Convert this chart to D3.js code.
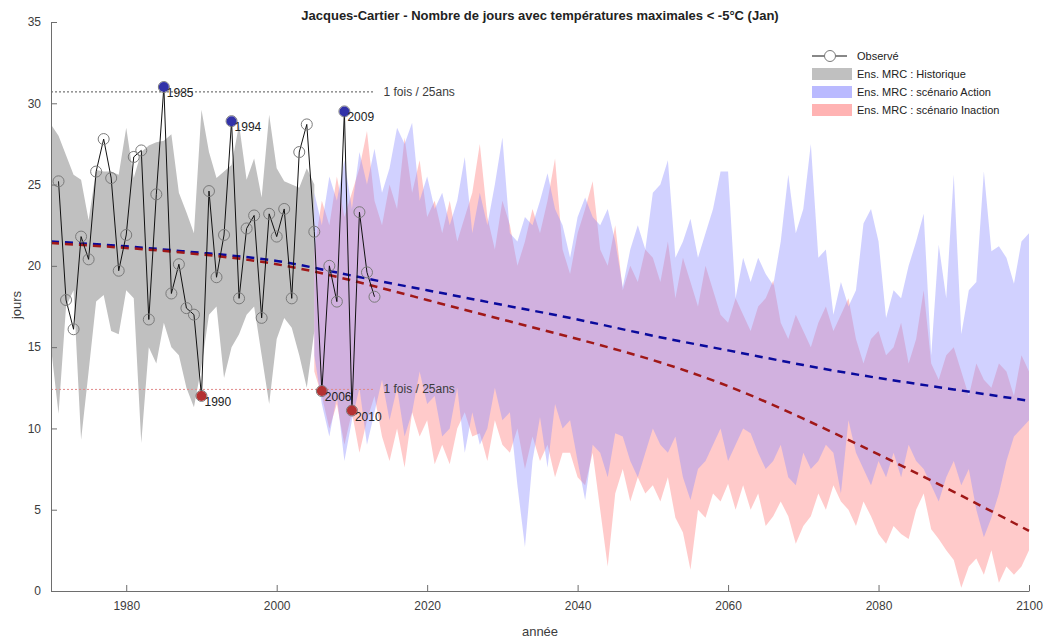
<!DOCTYPE html>
<html>
<head>
<meta charset="utf-8">
<script src="https://cdn.jsdelivr.net/npm/d3@7"></script>
<style>
    body { margin: 0; background: #fff; }
    text { font-family: "Liberation Sans", Arial, sans-serif; }
</style>
</head>
<body>
<div id="chart"></div>
<script>
// Observed January days with Tmax < -5°C
const obsYears = d3.range(1971, 2014);
const obsValues = [25.2, 17.9, 16.1, 21.8, 20.4, 25.8, 27.8, 25.4, 19.7, 21.9,
    26.7, 27.1, 16.7, 24.4, 31.0, 18.3, 20.1, 17.4, 17.0, 12.0,
    24.6, 19.3, 21.9, 28.9, 18.0, 22.3, 23.1, 16.8, 23.2, 21.8,
    23.5, 18.0, 27.0, 28.7, 22.1, 12.3, 20.0, 17.8, 29.5, 11.1,
    23.3, 19.6, 18.1];

// Highlighted extremes
const highYears = [1985, 1994, 2009];
const lowYears = [1990, 2006, 2010];
const thresholdHigh = 30.7;
const thresholdLow = 12.4;
const thresholdLabel = '1 fois / 25ans';

// Historical ensemble envelope (1970-2005)
const histYears = d3.range(1970, 2006);
const histUpper = [28.7, 28.0, 26.8, 25.6, 25.3, 22.8, 25.9, 25.8, 25.8, 25.6,
    28.5, 25.4, 27.0, 27.4, 27.6, 27.7, 28.1, 24.5, 23.3, 22.0,
    29.6, 27.0, 25.4, 25.8, 26.2, 28.7, 25.3, 26.6, 24.2, 29.3,
    26.0, 25.2, 25.0, 24.8, 26.0, 25.0];
const histLower = [15.0, 10.9, 17.5, 18.5, 9.3, 13.5, 17.8, 18.2, 16.0, 15.8,
    18.5, 18.0, 9.1, 15.0, 14.0, 16.5, 15.0, 14.5, 12.5, 11.3,
    13.8, 17.0, 17.5, 13.1, 15.0, 15.8, 17.0, 17.5, 14.5, 11.5,
    15.5, 16.8, 16.2, 14.5, 12.5, 16.0];

// Projected ensemble envelopes (2005-2100)
const projYears = d3.range(2005, 2101);
const actionUpper = [24.5,
    22.5, 25.5, 24.0, 26.5, 23.5, 27.0, 25.0, 27.2, 24.5, 26.0,
    28.5, 27.5, 28.8, 24.0, 25.5, 23.5, 24.5, 22.5, 24.0, 26.7,
    22.0, 24.5, 22.5, 25.0, 27.9, 22.0, 21.5, 23.0, 22.5, 24.0,
    25.7, 23.5, 22.5, 20.5, 23.0, 24.2, 23.0, 22.5, 23.5, 21.5,
    18.7, 21.0, 22.5, 21.0, 24.5, 25.0, 26.5, 20.5, 21.5, 22.9,
    20.5, 22.0, 23.5, 25.8, 25.8, 18.0, 20.5, 19.0, 20.5, 19.5,
    18.8, 21.5, 25.6, 22.0, 23.5, 27.5, 20.5, 21.0, 17.0, 19.0,
    17.5, 18.5, 22.6, 23.5, 21.5, 16.8, 18.5, 18.0, 20.0, 21.5,
    23.2, 14.5, 21.3, 18.0, 25.6, 15.8, 18.5, 19.0, 25.8, 20.9,
    21.2, 20.5, 18.9, 21.5, 22.0];
const actionLower = [14.5,
    11.5, 9.5, 12.0, 8.0, 10.5, 12.5, 9.0, 11.0, 13.0, 10.5,
    12.5, 9.5, 11.0, 13.5, 11.5, 12.0, 9.5, 10.0, 12.5, 8.5,
    11.0, 9.0, 10.0, 12.5, 10.5, 11.0, 6.5, 2.7, 8.0, 10.7,
    7.6, 11.5, 10.0, 10.5, 8.0, 5.6, 9.0, 8.5, 7.0, 9.7,
    9.5, 8.0, 7.0, 8.5, 10.0, 9.0, 8.5, 9.5, 7.0, 5.6,
    7.5, 8.0, 9.0, 10.0, 8.0, 9.0, 10.0, 9.7, 8.5, 7.5,
    8.0, 9.0, 7.0, 6.5, 8.5, 7.5, 8.0, 9.0, 8.5, 6.0,
    10.5, 8.5, 7.5, 6.5, 8.0, 7.0, 8.5, 7.0, 9.0, 8.0,
    7.5, 6.5, 5.5, 7.0, 8.0, 6.5, 7.5, 5.0, 3.3, 4.5,
    6.0, 8.0, 9.5, 10.0, 10.5];
const inactionUpper = [21.0,
    24.0, 22.5, 25.5, 23.0, 24.5, 26.0, 28.3, 24.0, 22.5, 25.0,
    23.5, 27.9, 24.5, 26.5, 23.0, 24.0, 22.0, 24.0, 21.5, 23.0,
    24.5, 27.5, 23.0, 21.0, 24.0, 22.5, 20.0, 21.5, 23.5, 22.0,
    24.0, 26.6, 21.0, 19.5, 22.0, 23.5, 25.2, 21.0, 20.0, 22.5,
    18.5, 20.0, 19.0, 21.0, 20.5, 19.0, 21.5, 18.0, 20.5, 19.0,
    17.5, 20.0, 18.5, 17.0, 16.5, 18.0, 17.0, 16.0, 17.5, 18.0,
    19.1, 16.5, 15.5, 17.0, 16.0, 15.0, 16.5, 17.5, 16.0, 17.0,
    18.0, 15.5, 14.0, 15.5, 16.0, 14.5, 15.0, 16.5, 14.0, 15.5,
    18.5, 14.0, 13.0, 14.5, 15.0, 13.5, 12.0, 14.0, 13.0, 12.5,
    14.0, 13.5, 12.0, 14.5, 13.5];
const inactionLower = [13.5,
    12.0, 10.0, 11.5, 9.0, 11.0, 8.5, 10.5, 12.0, 9.5, 8.0,
    10.0, 7.6, 11.0, 9.5, 10.5, 7.8, 9.0, 7.8, 10.0, 11.0,
    9.5, 9.7, 8.0, 10.5, 9.0, 8.5, 10.0, 7.5, 9.5, 8.0,
    9.0, 7.0, 8.5, 8.5, 7.0, 6.5, 8.5, 5.0, 1.5, 6.0,
    7.5, 5.5, 7.0, 6.0, 6.5, 5.5, 7.0, 4.5, 3.6, 1.3,
    5.0, 4.5, 6.0, 5.5, 6.6, 5.0, 6.5, 5.0, 6.0, 4.0,
    4.6, 5.5, 4.6, 2.9, 4.0, 4.6, 6.0, 5.0, 6.5, 5.5,
    5.0, 4.0, 5.5, 4.6, 3.5, 2.9, 4.0, 3.5, 3.2, 5.0,
    6.0, 3.8, 3.2, 2.5, 1.9, 0.2, 1.5, 2.0, 1.0, 2.5,
    0.5, 1.5, 1.0, 1.5, 2.5];

// Ensemble mean trends
const trendYears = [1970, 1980, 1990, 2000, 2010, 2020, 2030, 2040, 2050, 2060, 2070, 2080, 2090, 2100];
const trendAction = [21.5, 21.2, 20.8, 20.3, 19.4, 18.5, 17.6, 16.7, 15.7, 14.8, 13.9, 13.1, 12.4, 11.7];
const trendInaction = [21.4, 21.1, 20.7, 20.1, 19.1, 17.9, 16.7, 15.5, 14.2, 12.6, 10.6, 8.4, 6.1, 3.7];

const xTicks = [1980, 2000, 2020, 2040, 2060, 2080, 2100];
const yTicks = [0, 5, 10, 15, 20, 25, 30, 35];

const legendLabels = ['Observé', 'Ens. MRC : Historique', 'Ens. MRC : scénario Action', 'Ens. MRC : scénario Inaction'];

// Chart setup
const width = 1053;
const height = 641;
const axisColor = '#6e6e6e';
const textColor = '#3c3c3c';

const svg = d3.select('#chart')
    .append('svg')
    .attr('width', width)
    .attr('height', height);

const x = d3.scaleLinear().domain([1970, 2100]).range([51, 1029]);
const y = d3.scaleLinear().domain([0, 35]).range([591, 22]);

// Bands
function bandArea(years, lower, upper) {
    return d3.area()
        .x((d, i) => x(years[i]))
        .y0((d, i) => y(lower[i]))
        .y1((d, i) => y(upper[i]))(years);
}

svg.append('path')
    .attr('d', bandArea(histYears, histLower, histUpper))
    .attr('fill', '#c0c0c0');

svg.append('path')
    .attr('d', bandArea(projYears, inactionLower, inactionUpper))
    .attr('fill', '#ff8080')
    .attr('fill-opacity', 0.42);

svg.append('path')
    .attr('d', bandArea(projYears, actionLower, actionUpper))
    .attr('fill', '#8c8cff')
    .attr('fill-opacity', 0.4);

// Return-period thresholds
const thrEnd = 2013;
svg.append('line')
    .attr('x1', x(1970)).attr('x2', x(thrEnd))
    .attr('y1', y(thresholdHigh)).attr('y2', y(thresholdHigh))
    .attr('stroke', '#555')
    .attr('stroke-width', 1)
    .attr('stroke-dasharray', '2,2');

svg.append('line')
    .attr('x1', x(1970)).attr('x2', x(thrEnd))
    .attr('y1', y(thresholdLow)).attr('y2', y(thresholdLow))
    .attr('stroke', '#e08a8a')
    .attr('stroke-width', 1)
    .attr('stroke-dasharray', '2,2');

[thresholdHigh, thresholdLow].forEach((v) => {
    svg.append('text')
        .attr('x', x(thrEnd) + 9)
        .attr('y', y(v) + 4)
        .style('font-size', '12px')
        .style('fill', textColor)
        .text(thresholdLabel);
});

// Trend lines
const trendLine = (values) => d3.line()
    .x((d, i) => x(trendYears[i]))
    .y((d, i) => y(values[i]))
    .curve(d3.curveNatural)(trendYears);

svg.append('path')
    .attr('d', trendLine(trendAction))
    .attr('fill', 'none')
    .attr('stroke', '#0a0a9c')
    .attr('stroke-width', 2.5)
    .attr('stroke-dasharray', '8,6');

svg.append('path')
    .attr('d', trendLine(trendInaction))
    .attr('fill', 'none')
    .attr('stroke', '#a01818')
    .attr('stroke-width', 2.5)
    .attr('stroke-dasharray', '8,6');

// Observed series
const obsLine = d3.line()
    .x((d, i) => x(obsYears[i]))
    .y((d) => y(d));

svg.append('path')
    .attr('d', obsLine(obsValues))
    .attr('fill', 'none')
    .attr('stroke', '#111')
    .attr('stroke-width', 1);

svg.selectAll('.obs-pt')
    .data(obsValues)
    .enter()
    .append('circle')
    .attr('class', 'obs-pt')
    .attr('cx', (d, i) => x(obsYears[i]))
    .attr('cy', (d) => y(d))
    .attr('r', 5.5)
    .attr('fill', 'none')
    .attr('stroke', '#7a7a7a')
    .attr('stroke-width', 1);

// Extreme years
function drawExtremes(years, color) {
    years.forEach((yr) => {
        const v = obsValues[obsYears.indexOf(yr)];
        svg.append('circle')
            .attr('cx', x(yr))
            .attr('cy', y(v))
            .attr('r', 5)
            .attr('fill', color);
        svg.append('text')
            .attr('x', x(yr) + 3)
            .attr('y', y(v) + 10)
            .style('font-size', '12px')
            .style('fill', '#222')
            .text(yr);
    });
}
drawExtremes(highYears, '#3232a8');
drawExtremes(lowYears, '#b33232');

// Axes
const xAxis = svg.append('g')
    .attr('transform', `translate(0,${y(0)})`)
    .call(d3.axisBottom(x).tickValues(xTicks).tickFormat(d3.format('d')).tickSizeInner(-6).tickSizeOuter(0).tickPadding(10));

const yAxis = svg.append('g')
    .attr('transform', `translate(${x(1970)},0)`)
    .call(d3.axisLeft(y).tickValues(yTicks).tickSizeInner(-6).tickSizeOuter(0).tickPadding(10));

[xAxis, yAxis].forEach((g) => {
    g.select('.domain').attr('stroke', axisColor);
    g.selectAll('.tick line').attr('stroke', axisColor);
    g.selectAll('.tick text')
        .style('font-size', '12px')
        .style('font-family', '"Liberation Sans", Arial, sans-serif')
        .style('fill', textColor);
});

// Title and axis labels
svg.append('text')
    .attr('x', 540)
    .attr('y', 20)
    .attr('text-anchor', 'middle')
    .style('font-size', '13px')
    .style('font-weight', 'bold')
    .style('fill', '#222')
    .text('Jacques-Cartier - Nombre de jours avec températures maximales < -5°C (Jan)');

svg.append('text')
    .attr('x', 540)
    .attr('y', 636)
    .attr('text-anchor', 'middle')
    .style('font-size', '13px')
    .style('fill', textColor)
    .text('année');

svg.append('text')
    .attr('transform', 'translate(21,305) rotate(-90)')
    .attr('text-anchor', 'middle')
    .style('font-size', '13px')
    .style('fill', textColor)
    .text('jours');

// Legend
const legend = svg.append('g').attr('transform', 'translate(800,44)');
legend.append('rect')
    .attr('width', 225).attr('height', 80)
    .attr('fill', '#fff');

const legendY = [12, 30, 48, 66];
legend.append('line')
    .attr('x1', 12).attr('x2', 47)
    .attr('y1', legendY[0]).attr('y2', legendY[0])
    .attr('stroke', '#111');
legend.append('circle')
    .attr('cx', 30).attr('cy', legendY[0]).attr('r', 5.5)
    .attr('fill', '#fff').attr('stroke', '#7a7a7a');

const patchFills = [['#c0c0c0', 1], ['#8c8cff', 0.6], ['#ff8080', 0.6]];
patchFills.forEach((p, i) => {
    legend.append('rect')
        .attr('x', 12).attr('y', legendY[i + 1] - 6)
        .attr('width', 40).attr('height', 12)
        .attr('fill', p[0])
        .attr('fill-opacity', p[1]);
});

legend.selectAll('.legend-label')
    .data(legendLabels)
    .enter()
    .append('text')
    .attr('class', 'legend-label')
    .attr('x', 57)
    .attr('y', (d, i) => legendY[i] + 4)
    .style('font-size', '11px')
    .style('fill', '#222')
    .text((d) => d);
</script>
</body>
</html>
